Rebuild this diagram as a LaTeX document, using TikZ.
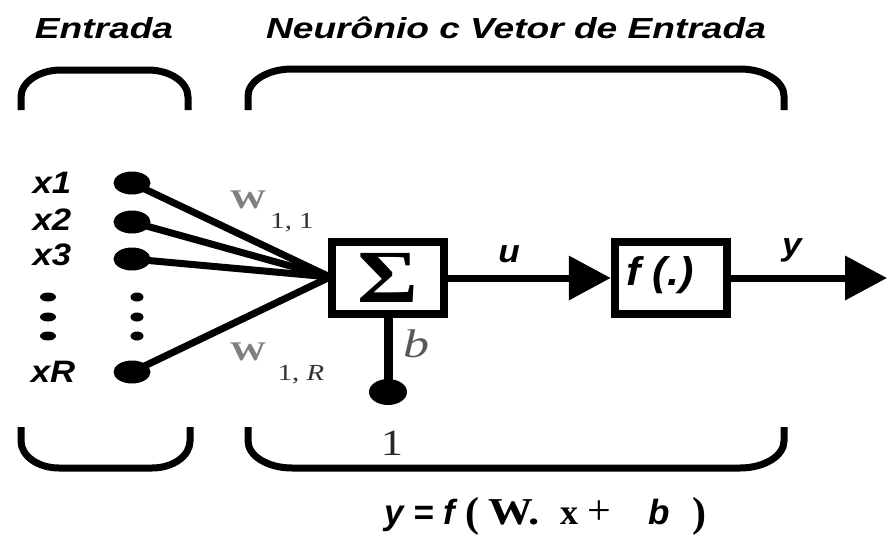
\documentclass[tikz,border=0pt]{standalone}
\usepackage{fontspec}
\setmainfont{Liberation Serif}
\newfontfamily\lsans{Liberation Sans}
\newfontfamily\lserif{Liberation Serif}
\usetikzlibrary{arrows.meta,shapes.geometric}
\newcommand{\fsz}[1]{\fontsize{#1}{#1}\selectfont}
\begin{document}
\begin{tikzpicture}[x=1pt,y=-1pt,
  brk/.style={line width=7pt},
  wire/.style={line width=7pt},
  dotn/.style={ellipse, fill=black, inner sep=0pt, minimum width=37pt, minimum height=23pt},
  smalldot/.style={ellipse, fill=black, inner sep=0pt, minimum height=9pt},
  blk/.style={draw, line width=8.5pt, fill=white, minimum width=112pt, minimum height=72pt, inner sep=0pt},
  title/.style={font=\lsans\bfseries\itshape\fsz{29}, inner sep=0pt, anchor=base, xscale=1.28},
  xlab/.style={font=\lsans\bfseries\itshape\fsz{31}, inner sep=0pt, anchor=base, xscale=1.12},
  sbi/.style={font=\lsans\bfseries\itshape\fsz{#1}, inner sep=0pt},
  ser/.style={font=\lserif\fsz{#1}, inner sep=0pt},
  serb/.style={font=\lserif\bfseries\fsz{#1}, inner sep=0pt},
  arr/.style={-{Triangle[length=42pt,width=43pt]}}
]
\useasboundingbox (0,0) rectangle (887,536);

% titles
\node[title] (t1) at (104,38) {Entrada};
\node[title] (t2) at (516,38) {Neurônio c Vetor de Entrada};

% brackets
\draw[brk] (21,110) -- (21,97) .. controls (21,82.1) and (38.9,70) .. (61,70) -- (148,70) .. controls (170.1,70) and (188,82.1) .. (188,97) -- (188,110);
\draw[brk] (248,110) -- (248,96) .. controls (248,81.1) and (267.7,69) .. (292,69) -- (740,69) .. controls (764.3,69) and (784,81.1) .. (784,96) -- (784,110);
\draw[brk] (21,427) -- (21,441) .. controls (21,455.9) and (38,468) .. (59,468) -- (152,468) .. controls (173,468) and (190,455.9) .. (190,441) -- (190,427);
\draw[brk] (248,427) -- (248,441) .. controls (248,455.9) and (267.7,468) .. (292,468) -- (740,468) .. controls (764.3,468) and (784,455.9) .. (784,441) -- (784,427);

% input labels
\node[xlab] (lx1) at (52,193) {x1};
\node[xlab] (lx2) at (52,230) {x2};
\node[xlab] (lx3) at (52,265) {x3};
\node[xlab] (lxR) at (53,382) {xR};
\node[smalldot, minimum width=16pt] (e1) at (48,297) {};
\node[smalldot, minimum width=16pt] (e2) at (48,317) {};
\node[smalldot, minimum width=16pt] (e3) at (48,336) {};
\node[smalldot, minimum width=13pt] (f1) at (137,297) {};
\node[smalldot, minimum width=13pt] (f2) at (137,317) {};
\node[smalldot, minimum width=13pt] (f3) at (137,336) {};

% input dots
\node[dotn] (d1) at (132,183) {};
\node[dotn] (d2) at (132,222) {};
\node[dotn] (d3) at (132,259) {};
\node[dotn] (dR) at (132,372) {};

\coordinate (conv) at (330,277);
\draw[wire] (d1.center) -- (conv);
\draw[wire] (d2.center) -- (conv);
\draw[wire] (d3.center) -- (conv);
\draw[wire] (dR.center) -- (conv);

% blocks
\node[blk] (sum) at (388,278) {};
\node[font=\lserif\bfseries\fsz{75}, inner sep=0pt, xscale=1.24] (sig) at (sum.center) {Σ};
\node[blk] (fn) at (671,278) {};
\node[sbi=40, xscale=1.08] (ftx) at (660,275) {f (.)};

% bias
\node[dotn, minimum width=38pt, minimum height=26pt] (bd) at (388,392) {};
\draw[line width=9pt] (sum.south) -- (bd.center);

% connectors
\coordinate (outp) at (887,278);
\draw[wire, arr] (sum.east) -- (fn.west);
\draw[wire, arr] (fn.east) -- (outp);

% labels
\node[sbi=32, anchor=base, xscale=1.1] (lu) at (509,262) {u};
\node[sbi=32, anchor=base, xscale=1.1] (ly) at (792,255) {y};
\node[serb=27, anchor=base, xscale=1.35, text=black!50] (w1) at (248,208) {W};
\node[ser=23, anchor=base, xscale=1.25, text=black!80] (w1s) at (292,228) {1, 1};
\node[serb=27, anchor=base, xscale=1.35, text=black!50] (w2) at (248,360) {W};
\node[ser=23, anchor=base, xscale=1.25, text=black!80] (w2s) at (301,380) {1, \textit{R}};
\node[inner sep=0pt, anchor=base, xscale=1.3, text=black!65, font=\lserif\itshape\fsz{40}] (lb) at (416,357) {b};
\node[ser=37, anchor=base, xscale=1.2, text=black!85] (one) at (392,455) {1};

% equation
\node[sbi=35, anchor=base west] (eqa) at (384,524) {y = f};
\node[serb=42, anchor=base west] (eqb) at (465,526) {(};
\node[serb=38, anchor=base west, xscale=1.18] (eqc) at (488,524) {W.};
\node[serb=36, anchor=base west] (eqx) at (560,524) {x};
\node[ser=42, anchor=base west] (eqp) at (587,524) {+};
\node[sbi=35, anchor=base west] (eqd) at (648,524) {b};
\node[serb=42, anchor=base west] (eqe) at (692,526) {)};
\end{tikzpicture}
\end{document}
